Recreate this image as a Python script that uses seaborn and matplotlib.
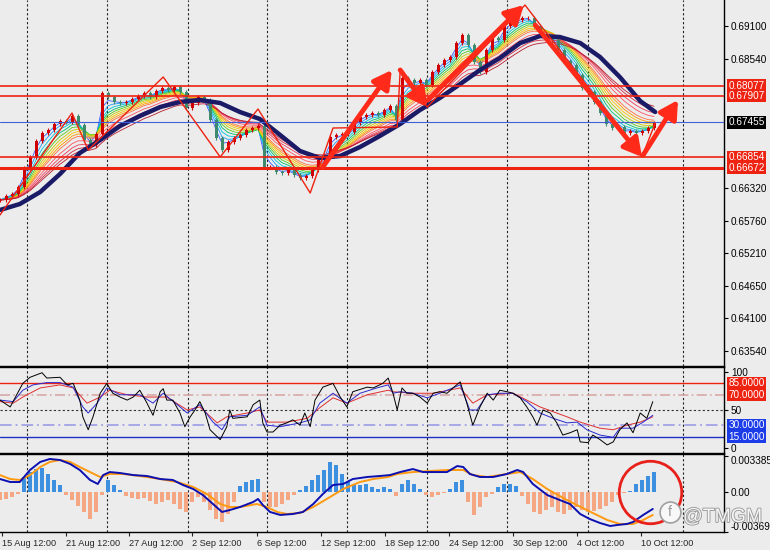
import numpy as np
import pandas as pd
import seaborn as sns
import matplotlib.pyplot as plt
import matplotlib.patheffects as pe

# closes, one candle every two H4 bars
closes = [0.66119, 0.66188, 0.66222, 0.66342, 0.66667, 0.66856, 0.67130, 0.67267, 0.67318, 0.67421,
          0.67472, 0.67455, 0.67558, 0.67404, 0.67147, 0.67061, 0.67250, 0.67952, 0.67883, 0.67798,
          0.67781, 0.67798, 0.67849, 0.67901, 0.67952, 0.67883, 0.67986, 0.68038, 0.68003, 0.68055,
          0.67969, 0.67695, 0.67781, 0.67883, 0.67832, 0.67489, 0.67181, 0.66976, 0.67113, 0.67181,
          0.67232, 0.67318, 0.67352, 0.67387, 0.66684, 0.66684, 0.66599, 0.66582, 0.66633, 0.66547,
          0.66496, 0.66530, 0.66633, 0.66804, 0.66873, 0.67198, 0.67232, 0.67250, 0.67284, 0.67438,
          0.67541, 0.67575, 0.67609, 0.67575, 0.67661, 0.67729, 0.67489, 0.68209, 0.68175, 0.68123,
          0.68175, 0.68089, 0.68312, 0.68432, 0.68517, 0.68569, 0.68808, 0.68945, 0.68774, 0.68483,
          0.68312, 0.68689, 0.68894, 0.68860, 0.69100, 0.69168, 0.69202, 0.69237, 0.69237, 0.69100,
          0.68963, 0.68911, 0.68860, 0.68689, 0.68500, 0.68432, 0.68260, 0.68038, 0.67969, 0.67798,
          0.67609, 0.67421, 0.67352, 0.67370, 0.67267, 0.67301, 0.67267, 0.67301, 0.67352, 0.67438]

# slow moving average (thick navy line)
slow_x = [0.0, 3.3, 6.7, 10.0, 13.3, 16.7, 20.0, 23.3, 26.7, 30.0, 33.3, 36.7, 40.0, 43.3, 46.7, 50.0, 53.3,
          56.7, 60.0, 63.3, 66.7, 70.0, 73.3, 76.7, 80.0, 83.3, 86.7, 90.0, 93.3, 96.7, 100.0, 103.3, 106.7, 109.2]
slow_y = [0.65948, 0.66050, 0.66256, 0.66564, 0.66924, 0.67147, 0.67387, 0.67558, 0.67712, 0.67798, 0.67832,
          0.67781, 0.67626, 0.67507, 0.67232, 0.66958, 0.66838, 0.66873, 0.67027, 0.67215, 0.67421, 0.67661,
          0.67866, 0.68106, 0.68346, 0.68551, 0.68808, 0.68928, 0.68911, 0.68808, 0.68569, 0.68226, 0.67815, 0.67626]
ribbon_periods = [2, 3, 4, 5, 6, 7, 8, 9, 10, 12, 14, 16, 18]

zigzag_x = [0.0, 12.0, 14.7, 27.2, 36.7, 43.0, 51.7, 55.5, 66.2, 66.7, 71.2, 87.5, 107.0, 109.2]
zigzag_y = [0.65862, 0.67609, 0.66976, 0.68226, 0.66856, 0.67678, 0.66239, 0.67352, 0.67370, 0.68346,
            0.67712, 0.69459, 0.66856, 0.67438]

# hand drawn arrows: (x0, y0, x1, y1)
arrows = [(53.8, 0.66685, 65.3, 0.68346),
          (66.7, 0.68346, 71.2, 0.67712),
          (71.3, 0.67832, 87.3, 0.69459),
          (89.2, 0.69117, 107.0, 0.66856),
          (107.2, 0.66890, 113.0, 0.67832)]

red_levels = [0.68077, 0.67907, 0.66854, 0.66672]
blue_level = 0.67455
price_ticks = [0.69100, 0.68540, 0.66320, 0.65760, 0.65210, 0.64650, 0.64100, 0.63540]

# oscillator (three RSI lines)
rsi_black_x = [0.0, 1.7, 3.8, 5.0, 7.0, 7.8, 10.0, 11.2, 12.2, 13.3, 13.8, 14.7, 15.5, 16.7, 17.8, 18.8, 20.0,
               21.2, 22.2, 23.3, 24.5, 25.5, 26.7, 27.2, 27.8, 28.8, 30.0, 30.8, 31.7, 32.5, 33.3, 34.2, 35.0,
               36.7, 37.8, 38.3, 38.8, 41.2, 42.2, 43.3, 43.8, 44.5, 45.5, 46.7, 47.8, 48.8, 50.0, 50.8, 51.7,
               52.5, 53.8, 55.5, 56.7, 57.8, 58.8, 61.2, 62.2, 63.8, 64.7, 65.5, 66.2, 67.0, 67.8, 68.8, 70.0,
               71.2, 72.2, 73.3, 74.5, 75.5, 76.7, 77.8, 78.8, 80.0, 81.2, 82.2, 83.3, 84.5, 85.5, 86.7, 87.8,
               88.8, 89.5, 90.5, 91.7, 92.8, 93.8, 95.0, 96.2, 96.7, 98.0, 98.8, 100.0, 101.2, 102.2, 103.3,
               104.5, 105.5, 106.7, 107.8, 108.3, 108.8]
rsi_black_y = [63, 54, 85, 93, 99, 92, 93, 83, 85, 63, 41, 24, 41, 72, 85, 72, 67,
               63, 67, 76, 59, 43, 74, 78, 63, 63, 46, 28, 41, 50, 61, 46, 24,
               11, 28, 50, 39, 41, 57, 63, 33, 21, 21, 30, 33, 37, 30, 46, 28,
               63, 80, 85, 67, 54, 74, 80, 79, 85, 92, 72, 50, 79, 72, 72, 67,
               59, 72, 74, 72, 79, 87, 59, 30, 54, 72, 63, 76, 74, 72, 66, 54,
               41, 30, 50, 46, 33, 17, 20, 24, 8, 7, 17, 11, 4, 8, 24,
               33, 20, 46, 39, 50, 61]
rsi_blue_x = [0.0, 2.2, 3.8, 5.5, 7.8, 10.0, 12.2, 13.8, 14.7, 16.2, 17.8, 20.0, 23.3, 25.5, 27.2, 30.0, 31.2,
              33.3, 35.5, 37.0, 38.3, 41.2, 43.3, 44.5, 46.7, 50.0, 51.7, 53.3, 55.5, 57.8, 60.0, 62.8, 64.7,
              65.5, 66.7, 68.8, 71.2, 73.3, 76.7, 78.3, 79.5, 81.2, 83.3, 85.5, 87.8, 90.0, 92.2, 94.5, 96.2,
              97.8, 100.0, 102.2, 103.3, 105.5, 107.2, 108.8]
rsi_blue_y = [63, 61, 76, 83, 86, 86, 80, 54, 46, 59, 79, 70, 70, 59, 72, 54, 46,
              57, 34, 24, 41, 43, 54, 30, 28, 33, 37, 59, 72, 59, 72, 79, 83,
              72, 74, 72, 66, 72, 83, 50, 50, 70, 72, 72, 61, 46, 39, 33, 34,
              24, 17, 14, 26, 26, 34, 43]
rsi_red_x = [0.0, 2.2, 3.8, 6.7, 10.0, 12.2, 14.5, 16.7, 18.3, 21.2, 24.5, 27.8, 31.2, 33.3, 36.2, 37.8, 41.2,
             43.3, 44.5, 47.8, 51.2, 53.3, 55.5, 57.8, 61.2, 64.7, 65.5, 68.8, 72.2, 76.7, 78.8, 81.2, 85.5,
             87.8, 90.0, 94.5, 96.7, 100.0, 102.2, 104.5, 106.7, 108.8]
rsi_red_y = [61, 59, 67, 79, 83, 79, 59, 67, 76, 70, 67, 67, 50, 54, 33, 41, 46,
             50, 34, 34, 39, 53, 66, 59, 70, 76, 74, 72, 72, 79, 59, 70, 72,
             63, 54, 41, 34, 26, 24, 30, 34, 41]

# MACD panel, values in units of 1e-4
hist_e4 = [-7.5, -6.5, -4.7, -1.9, 14.0, 18.6, 21.4, 22.4, 16.8, 11.2,
           6.5, -2.8, -7.5, -13.0, -18.6, -25.2, -18.6, -2.8, 11.2, 6.5,
           1.9, -3.7, -5.6, -6.5, -5.6, -8.4, -11.2, -9.3, -7.5, -11.2,
           -15.8, -18.6, -9.3, -4.7, -9.3, -16.8, -25.2, -28.0, -20.5, -9.3,
           5.6, 9.3, 11.2, 12.1, -9.3, -14.0, -14.0, -11.2, -7.5, -2.8,
           1.9, 5.6, 11.2, 15.8, 20.5, 28.0, 25.2, 16.8, 9.3, 7.5,
           6.5, 7.5, 4.7, 2.8, 4.7, 2.8, -3.7, 7.5, 11.2, 7.5,
           2.8, -2.8, -4.7, -2.8, -0.9, 2.8, 9.3, 11.2, -9.3, -21.4,
           -14.0, -4.7, -1.9, 4.7, 7.5, 7.5, 5.6, -3.7, -11.2, -18.6,
           -20.5, -16.8, -14.0, -18.6, -20.5, -16.8, -14.0, -16.8, -18.6, -17.7,
           -15.8, -13.0, -9.3, -2.8, -0.9, 0.9, 7.5, 11.2, 14.9, 18.6]
macd_x = [0.0, 1.7, 3.3, 5.0, 6.7, 8.3, 10.0, 11.7, 13.3, 15.0, 16.3, 17.2, 18.3, 20.0, 22.2, 24.5, 26.7, 28.8,
          30.5, 32.2, 33.8, 35.5, 37.0, 38.3, 40.0, 42.2, 43.0, 43.8, 45.0, 46.7, 48.8, 50.5, 52.2, 53.8, 55.5,
          57.2, 58.8, 61.2, 63.3, 65.0, 66.7, 68.8, 70.5, 72.2, 74.5, 76.2, 77.2, 78.3, 80.0, 82.2, 84.5, 86.2,
          87.2, 88.8, 91.2, 93.3, 95.0, 96.7, 98.3, 100.0, 101.7, 102.8, 104.5, 105.5, 107.2, 108.8]
macd_e4 = [12.1, 9.3, 9.3, 20.5, 28.0, 30.8, 29.8, 26.1, 20.5, 11.2, 7.5, 15.8, 18.6, 17.7, 15.8, 14.9, 12.1, 11.2,
           6.5, 2.8, -2.8, -11.2, -18.6, -16.8, -14.0, -9.3, -6.5, -12.1, -18.6, -21.4, -20.5, -18.6, -11.2, -1.9,
           6.5, 7.5, 12.1, 14.0, 14.9, 15.8, 18.6, 21.4, 18.6, 18.6, 18.6, 24.2, 23.3, 16.8, 14.0, 14.0, 16.8, 20.5,
           18.6, 7.5, -2.8, -7.5, -11.2, -20.5, -25.2, -28.9, -31.7, -30.8, -29.8, -28.0, -21.4, -15.8]
signal_x = [0.0, 1.7, 3.3, 5.0, 6.7, 8.3, 10.0, 11.7, 13.3, 15.0, 16.7, 18.3, 20.5, 23.3, 26.7, 29.5, 32.2, 34.5,
            36.7, 38.3, 40.0, 42.8, 44.5, 46.2, 47.8, 50.0, 52.2, 55.0, 57.2, 60.0, 62.2, 64.7, 66.2, 68.8, 74.5,
            77.2, 78.8, 81.2, 84.5, 86.7, 88.8, 91.2, 94.5, 97.8, 101.2, 103.3, 105.5, 107.2, 108.8]
signal_e4 = [15.8, 12.1, 11.2, 15.8, 23.3, 28.0, 29.8, 28.0, 23.3, 18.6, 14.0, 16.8, 16.8, 14.9, 12.1, 9.3, 4.7, -1.9,
             -11.2, -14.0, -14.0, -11.2, -14.0, -18.6, -20.5, -19.6, -14.0, -4.7, 2.8, 9.3, 12.1, 14.0, 16.8, 18.6,
             20.5, 20.5, 15.8, 14.0, 16.8, 18.6, 12.1, 2.8, -7.5, -16.8, -26.1, -29.8, -29.8, -26.1, -21.4]
macd_ticks = [0.0033851, 0.0, -0.0036967]
macd_labels = ['0.0033851', '0.00', '-0.0036967']

grid_bars = [4.5, 17.8, 31.3, 44.5, 57.8, 71.2, 84.5, 98.0, 113.8]
date_pos = [0.3, 11.0, 21.5, 32.0, 42.8, 53.5, 64.2, 74.8, 85.5, 96.2, 106.8]
date_labels = ['15 Aug 12:00', '21 Aug 12:00', '27 Aug 12:00', '2 Sep 12:00', '6 Sep 12:00', '12 Sep 12:00',
               '18 Sep 12:00', '24 Sep 12:00', '30 Sep 12:00', '4 Oct 12:00', '10 Oct 12:00']

sns.set_style('white')
plt.rcParams['font.family'] = ['Liberation Sans', 'DejaVu Sans']
bg = '#ececec'
red = '#ee2211'
xmax = 120.67

fig = plt.figure(figsize=(7.7, 5.5), dpi=100, facecolor=bg)
ax1 = fig.add_axes([0, 0.3345, 0.9403, 0.6655])
ax2 = fig.add_axes([0, 0.1764, 0.9403, 0.1564])
ax3 = fig.add_axes([0, 0.0327, 0.9403, 0.1418])

for ax in (ax1, ax2, ax3):
    ax.set_facecolor(bg)
    ax.set_xlim(0, xmax)
    for s in ax.spines.values():
        s.set_color('black')
        s.set_linewidth(1)
    ax.spines['left'].set_visible(False)
    ax.yaxis.tick_right()
    ax.tick_params(axis='y', right=True, left=False, labelright=True, labelleft=False,
                   length=3, width=0.8, labelsize=7.2, pad=2, colors='black')
    ax.tick_params(axis='x', bottom=False, labelbottom=False)
    for g in grid_bars:
        ax.axvline(g, color='#222222', lw=0.8, ls=(0, (2, 2)), zorder=1)
ax1.spines['top'].set_visible(False)


def ema(v, n):
    a = 2.0 / (n + 1)
    out = np.empty(len(v))
    out[0] = v[0]
    for i in range(1, len(v)):
        out[i] = a * v[i] + (1 - a) * out[i - 1]
    return out


def box(ax, y, txt, fc):
    ax.text(1.006, y, txt, transform=ax.get_yaxis_transform(), color='white', fontsize=7.2,
            va='center', ha='left', clip_on=False,
            bbox=dict(boxstyle='square,pad=0.15', fc=fc, ec='none'))


# ---- price panel ----
c = np.array(closes)
x = np.arange(len(c))
o = np.r_[c[0], c[:-1]]
ribbon_cols = ['#3a5cff', '#1c9bff', '#00c6d8', '#00c070', '#58cc1a', '#c8cc00', '#ffc400',
               '#ff9a00', '#ff7040', '#ff5060', '#ee3a58', '#d42a44', '#b81c30']
for n, col in zip(ribbon_periods, ribbon_cols):
    ax1.plot(x, ema(c, n), color=col, lw=0.6, zorder=2)

up = c >= o
lo = np.minimum(o, c)
hi = np.maximum(o, c)
cols = np.where(up, '#d00000', '#3e8a6c')
ax1.vlines(x, lo - 0.0004, hi + 0.0004, colors=cols, lw=0.8, zorder=3)
ax1.bar(x, np.maximum(hi - lo, 0.00006), bottom=lo, width=0.5, color=cols, lw=0, zorder=3)

sns.lineplot(data=pd.DataFrame({'bar': slow_x, 'p': slow_y}), x='bar', y='p', ax=ax1,
             color='#1a1a66', lw=3.2, estimator=None, sort=False, zorder=4)

for lv in red_levels:
    ax1.axhline(lv, color=red, lw=2.2 if lv == 0.66672 else 1.2, zorder=5)
    box(ax1, lv, f'{lv:.5f}', red)
ax1.axhline(blue_level, color='#4060d8', lw=0.8, zorder=5)
box(ax1, blue_level, f'{blue_level:.5f}', 'black')

ax1.plot(zigzag_x, zigzag_y, color=red, lw=1.0, zorder=5)
for x0, y0, x1, y1 in arrows:
    ax1.annotate('', xy=(x1, y1), xytext=(x0, y0),
                 arrowprops=dict(arrowstyle='-|>,head_length=0.9,head_width=0.5', lw=3.5,
                                 color='#ff2a1a', mutation_scale=12, shrinkA=0, shrinkB=0), zorder=6)

ax1.set_ylim(0.63275, 0.69545)
ax1.set_yticks(price_ticks)
ax1.set_yticklabels([f'{t:.5f}' for t in price_ticks])
ax1.set_xlabel('')
ax1.set_ylabel('')

# ---- oscillator panel ----
ax2.axhline(85, color=red, lw=1.0, zorder=2)
ax2.axhline(70, color='#d8a8a8', lw=1.2, ls=(0, (6, 2, 1, 2)), zorder=2)
ax2.axhline(50, color='#333333', lw=0.8, ls=(0, (2, 2)), zorder=2)
ax2.axhline(30, color='#a8a8e8', lw=1.4, ls=(0, (6, 2, 1, 2)), zorder=2)
ax2.axhline(15, color='#2030c0', lw=1.0, zorder=2)
for xs, ys, col in ((rsi_red_x, rsi_red_y, '#e03030'), (rsi_blue_x, rsi_blue_y, '#2a2ad0'),
                    (rsi_black_x, rsi_black_y, '#000000')):
    sns.lineplot(data=pd.DataFrame({'bar': xs, 'v': ys}), x='bar', y='v', ax=ax2,
                 color=col, lw=0.7, estimator=None, sort=False, zorder=3)
ax2.set_ylim(-6.6, 106.6)
ax2.set_yticks([0, 50, 100])
ax2.set_yticklabels(['0', '50', '100'])
box(ax2, 85, '85.0000', red)
box(ax2, 70, '70.0000', red)
box(ax2, 30, '30.0000', '#1c3ce8')
box(ax2, 15, '15.0000', '#1c3ce8')
ax2.set_xlabel('')
ax2.set_ylabel('')

# ---- MACD panel ----
h = np.array(hist_e4) * 1e-4
ax3.bar(x, h, width=0.55, color=np.where(h >= 0, '#3d8fe0', '#f5a783'), lw=0, zorder=2)
sns.lineplot(data=pd.DataFrame({'bar': signal_x, 'v': np.array(signal_e4) * 1e-4}), x='bar', y='v',
             ax=ax3, color='#ff9a10', lw=1.4, estimator=None, sort=False, zorder=3)
sns.lineplot(data=pd.DataFrame({'bar': macd_x, 'v': np.array(macd_e4) * 1e-4}), x='bar', y='v',
             ax=ax3, color='#0c10b0', lw=1.4, estimator=None, sort=False, zorder=3)
ax3.plot([108.3], [0.0], marker='o', ms=45, mfc='none', mec='#e8201a', mew=2, zorder=6)
ax3.set_ylim(-0.00373, 0.00354)
ax3.set_yticks(macd_ticks)
ax3.set_yticklabels(macd_labels)
tl = ax3.get_yticklabels()
tl[0].set_va('top')
tl[-1].set_va('bottom')
ax3.set_xticks(date_pos)
ax3.set_xticklabels(date_labels, ha='left')
ax3.tick_params(axis='x', bottom=True, labelbottom=True, length=3, width=0.8, labelsize=6.6, pad=2)
ax3.set_xlabel('')
ax3.set_ylabel('')

# watermark
ax3.plot([111.7], [-0.00186], marker='o', ms=15, mfc='#f8f8f8', mec='#a0a0a0', mew=1.2,
         clip_on=False, zorder=7)
ax3.text(111.7, -0.00186, 'f', color='#9a9a9a', fontsize=10, ha='center', va='center', zorder=8)
fig.text(0.887, 0.051, '@TMGM', fontsize=14, color='#f6f6f6', zorder=10,
         path_effects=[pe.withStroke(linewidth=1.3, foreground='#9a9a9a')])

fig.savefig('out.png', dpi=100, facecolor=bg)
